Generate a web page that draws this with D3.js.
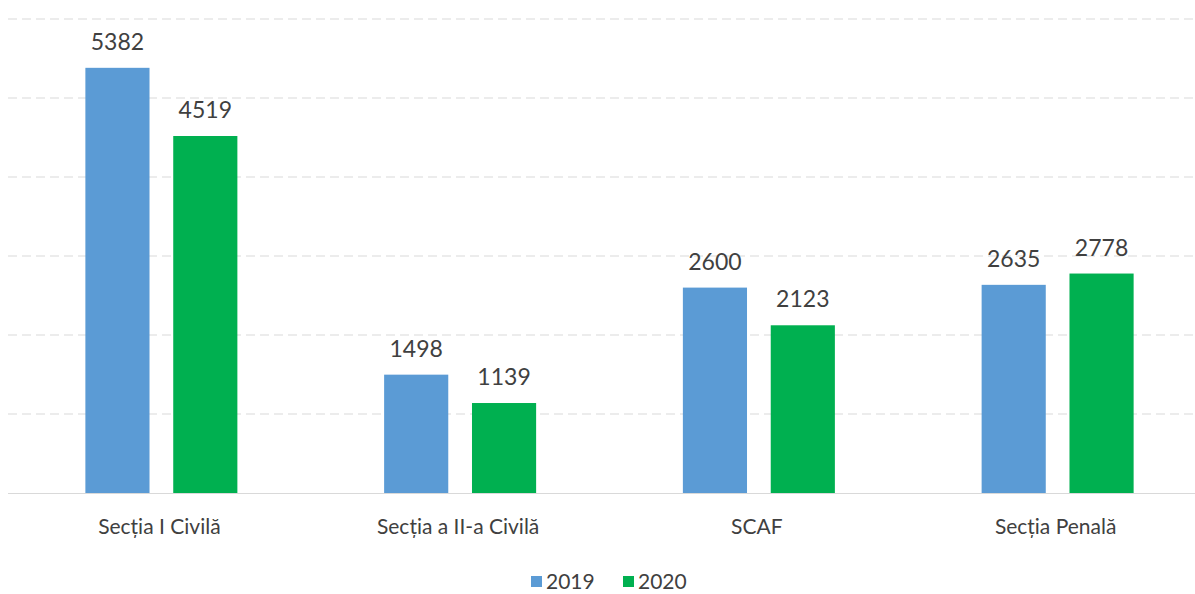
<!DOCTYPE html>
<html>
<head>
<meta charset="utf-8">
<script src="https://cdn.jsdelivr.net/npm/d3@7"></script>
<style>
  body { margin: 0; background: #fff; }
  svg text { font-family: Lato, "Open Sans", sans-serif; fill: #404040; }
</style>
</head>
<body>
<div id="chart"></div>
<script>
// Date: dosare pe secții, 2019 vs 2020
const categories = ['Secția I Civilă', 'Secția a II-a Civilă', 'SCAF', 'Secția Penală'];
const seriesNames = ['2019', '2020'];
const values2019 = [5382, 1498, 2600, 2635];
const values2020 = [4519, 1139, 2123, 2778];
const yTicks = [0, 1000, 2000, 3000, 4000, 5000, 6000];

const colors = { '2019': '#5B9BD5', '2020': '#00B050' };

const W = 1195, H = 594;
const svg = d3.select('#chart').append('svg')
    .attr('width', W)
    .attr('height', H);

const x = d3.scaleBand()
    .domain(categories)
    .range([12, 1207])
    .paddingInner(0)
    .paddingOuter(0);

const x1 = d3.scaleBand()
    .domain(seriesNames)
    .range([0, 152])
    .paddingInner(0.27)
    .paddingOuter(0);

const y = d3.scaleLinear()
    .domain([0, 6000])
    .range([493, 19]);

// grila orizontală
svg.append('g')
    .selectAll('line')
    .data(yTicks.filter(d => d > 0))
    .enter().append('line')
    .attr('x1', 8)
    .attr('x2', W)
    .attr('y1', d => y(d))
    .attr('y2', d => y(d))
    .attr('stroke', '#d9d9d9')
    .attr('stroke-width', 1)
    .attr('stroke-dasharray', '9,5');

const rows = categories.map((c, i) => ({
    cat: c,
    items: [
        { key: '2019', value: values2019[i] },
        { key: '2020', value: values2020[i] }
    ]
}));

const groups = svg.append('g').selectAll('g')
    .data(rows)
    .enter().append('g')
    .attr('transform', d => `translate(${x(d.cat) + x.bandwidth() / 2 - 76},0)`);

groups.selectAll('rect')
    .data(d => d.items)
    .enter().append('rect')
    .attr('x', d => x1(d.key))
    .attr('y', d => y(d.value))
    .attr('width', x1.bandwidth())
    .attr('height', d => y(0) - y(d.value))
    .attr('fill', d => colors[d.key]);

groups.selectAll('text.val')
    .data(d => d.items)
    .enter().append('text')
    .attr('class', 'val')
    .attr('x', d => x1(d.key) + x1.bandwidth() / 2)
    .attr('y', d => y(d.value) - 18)
    .attr('text-anchor', 'middle')
    .style('font-size', '23px')
    .text(d => d.value);

// axa X
svg.append('line')
    .attr('x1', 8)
    .attr('x2', W)
    .attr('y1', y(0) + 0.5)
    .attr('y2', y(0) + 0.5)
    .attr('stroke', '#d9d9d9')
    .attr('stroke-width', 1);

svg.append('g').selectAll('text')
    .data(categories)
    .enter().append('text')
    .attr('x', d => x(d) + x.bandwidth() / 2 - 2)
    .attr('y', 534)
    .attr('text-anchor', 'middle')
    .style('font-size', '21px')
    .text(d => d);

// legenda
const legend = svg.append('g').attr('transform', 'translate(531,576)');
const legendX = [0, 92];
seriesNames.forEach((s, i) => {
    legend.append('rect')
        .attr('x', legendX[i])
        .attr('y', 0)
        .attr('width', 11)
        .attr('height', 11)
        .attr('fill', colors[s]);
    legend.append('text')
        .attr('x', legendX[i] + 15)
        .attr('y', 13)
        .style('font-size', '21px')
        .text(s);
});
</script>
</body>
</html>
